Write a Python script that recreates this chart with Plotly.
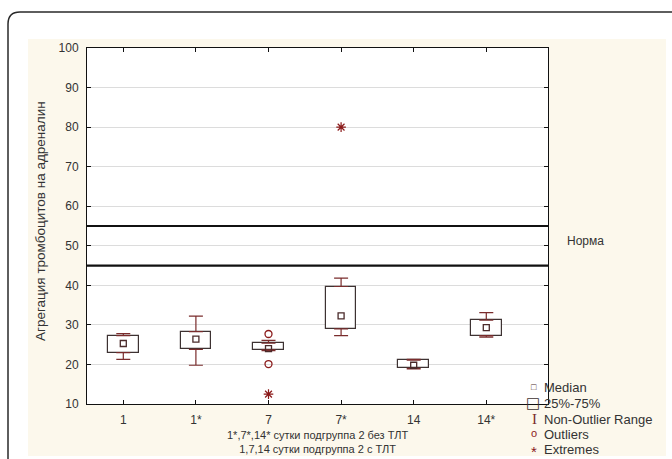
import plotly.graph_objects as go

# ---- data ----
categories = ["1", "1*", "7", "7*", "14", "14*"]
q1 = [23.0, 23.8, 23.7, 29.0, 19.0, 27.3]
median = [25.3, 26.4, 24.0, 32.3, 19.8, 29.3]
q3 = [27.3, 28.3, 25.4, 39.7, 21.1, 31.2]
lower_whisker = [21.3, 19.8, 23.5, 27.3, 18.9, 26.9]
upper_whisker = [27.8, 32.2, 26.1, 41.8, 21.3, 33.1]
outlier_cat = ["7", "7"]
outlier_val = [27.7, 20.1]
extreme_cat = ["7", "7*"]
extreme_val = [12.5, 80.0]
norm_bounds = [45, 55]
norm_label = "Норма"
y_title = "Агрегация тромбоцитов на адреналин"
x_title_lines = ["1*,7*,14* сутки подгруппа 2 без ТЛТ", "1,7,14 сутки подгруппа 2 с ТЛТ"]
legend_labels = ["Median", "25%-75%", "Non-Outlier Range", "Outliers", "Extremes"]

pos = list(range(len(categories)))
idx = {c: i for i, c in enumerate(categories)}

BOX_LINE = "#3d3232"
WHISK = "#7a2c2c"
MED = "#4a2a2a"
OUT = "#8b1a1a"
FONT = "Liberation Sans, Arial, sans-serif"
TXT = "#333333"

fig = go.Figure()

# boxes (25%-75%)
fig.add_trace(go.Bar(
    x=pos, base=q1, y=[b - a for a, b in zip(q1, q3)], width=0.42,
    marker=dict(color="white", line=dict(color=BOX_LINE, width=1.2)),
    showlegend=False, hoverinfo="skip"))

# upper whiskers
fig.add_trace(go.Scatter(
    x=pos, y=q3, mode="markers", marker=dict(size=1, opacity=0),
    error_y=dict(type="data", symmetric=False,
                 array=[u - t for u, t in zip(upper_whisker, q3)],
                 arrayminus=[0] * len(pos), width=7, thickness=1.2, color=WHISK),
    showlegend=False, hoverinfo="skip"))
# lower whiskers
fig.add_trace(go.Scatter(
    x=pos, y=q1, mode="markers", marker=dict(size=1, opacity=0),
    error_y=dict(type="data", symmetric=False,
                 array=[0] * len(pos),
                 arrayminus=[b - l for b, l in zip(q1, lower_whisker)],
                 width=7, thickness=1.2, color=WHISK),
    showlegend=False, hoverinfo="skip"))

# medians
fig.add_trace(go.Scatter(
    x=pos, y=median, mode="markers",
    marker=dict(symbol="square-open", size=6, color=MED, line=dict(width=1.3)),
    showlegend=False, hoverinfo="skip"))

# outliers
fig.add_trace(go.Scatter(
    x=[idx[c] for c in outlier_cat], y=outlier_val, mode="markers",
    marker=dict(symbol="circle-open", size=7, color=OUT, line=dict(width=1.3)),
    showlegend=False, hoverinfo="skip"))

# extremes
fig.add_trace(go.Scatter(
    x=[idx[c] for c in extreme_cat], y=extreme_val, mode="markers",
    marker=dict(symbol="asterisk-open", size=8, color=OUT, line=dict(width=1.2, color=OUT)),
    showlegend=False, hoverinfo="skip"))

# geometry of the plot area in pixels
W, H = 672, 459
L, R, T, B = 87, 548, 48, 404
pw, ph = R - L, B - T


def px(x):
    return (x - L) / pw


def py(y):
    return (B - y) / ph


shapes = [
    # cream panel
    dict(type="rect", xref="paper", yref="paper", x0=px(28), x1=px(666), y0=py(456), y1=py(39),
         fillcolor="#fcf8ec", line=dict(width=0), layer="below"),
    # white plotting area
    dict(type="rect", xref="paper", yref="paper", x0=0, x1=1, y0=0, y1=1,
         fillcolor="white", line=dict(width=0), layer="below"),
    # outer rounded border
    dict(type="path", xref="paper", yref="paper",
         path=f"M {px(8)},{py(470)} L {px(8)},{py(24)} Q {px(8)},{py(12)} {px(20)},{py(12)} L {px(690)},{py(12)}",
         line=dict(color="#2a2a2a", width=1.5), layer="below"),
]
for v in norm_bounds:
    shapes.append(dict(type="line", xref="paper", yref="y", x0=0, x1=1, y0=v, y1=v,
                       line=dict(color="#111111", width=2.2), layer="above"))

annotations = [
    dict(text=y_title, xref="paper", yref="paper", x=px(40), y=py(221), textangle=-90,
         showarrow=False, xanchor="center", yanchor="middle",
         font=dict(family=FONT, size=13.5, color=TXT)),
    dict(text="<br>".join(x_title_lines), xref="paper", yref="paper", x=0.5, y=py(442),
         showarrow=False, xanchor="center", yanchor="middle",
         font=dict(family=FONT, size=11, color=TXT)),
    dict(text=norm_label, xref="paper", yref="paper", x=px(565), y=py(241),
         showarrow=False, xanchor="left", yanchor="middle",
         font=dict(family=FONT, size=12, color=TXT)),
]

# legend (Statistica style)
leg_y = [387, 403, 419, 434, 449]
icons = [
    dict(text="□", size=9, color=MED, family=FONT, x=534),
    dict(text="□", size=15, color=BOX_LINE, family="DejaVu Sans", x=533),
    dict(text="I", size=15, color=WHISK, family="Liberation Serif", x=534),
    dict(text="o", size=11, color=OUT, family=FONT, x=534),
    dict(text="*", size=15, color=OUT, family=FONT, x=534),
]
icon_dy = [0, 0, 0, -1, 3]
for lab, yy, ic, dy in zip(legend_labels, leg_y, icons, icon_dy):
    annotations.append(dict(text=ic["text"], xref="paper", yref="paper", x=px(ic["x"]), y=py(yy + dy),
                            showarrow=False, xanchor="center", yanchor="middle",
                            font=dict(family=ic["family"], size=ic["size"], color=ic["color"])))
    annotations.append(dict(text=lab, xref="paper", yref="paper", x=px(542), y=py(yy),
                            showarrow=False, xanchor="left", yanchor="middle",
                            font=dict(family=FONT, size=13, color=TXT)))

fig.update_layout(
    width=W, height=H,
    margin=dict(l=L, r=W - R, t=T, b=H - B, pad=0),
    paper_bgcolor="white", plot_bgcolor="white",
    showlegend=False, bargap=0,
    shapes=shapes, annotations=annotations,
    font=dict(family=FONT, size=12, color=TXT),
)
fig.update_xaxes(
    range=[-0.5, 5.85], tickmode="array", tickvals=pos, ticktext=categories,
    showgrid=False, zeroline=False,
    showline=True, linecolor="#111111", linewidth=1, mirror="ticks",
    ticks="inside", ticklen=4, tickcolor="#111111", ticklabelstandoff=5,
    tickfont=dict(family=FONT, size=12, color=TXT),
)
fig.update_yaxes(
    range=[10, 100], dtick=10, tick0=10,
    showgrid=True, gridcolor="#dcdcdc", gridwidth=1, zeroline=False,
    showline=True, linecolor="#111111", linewidth=1, mirror="ticks",
    ticks="inside", ticklen=4, tickcolor="#111111", ticklabelstandoff=5,
    tickfont=dict(family=FONT, size=12, color=TXT),
)

fig.write_html("out.html")
